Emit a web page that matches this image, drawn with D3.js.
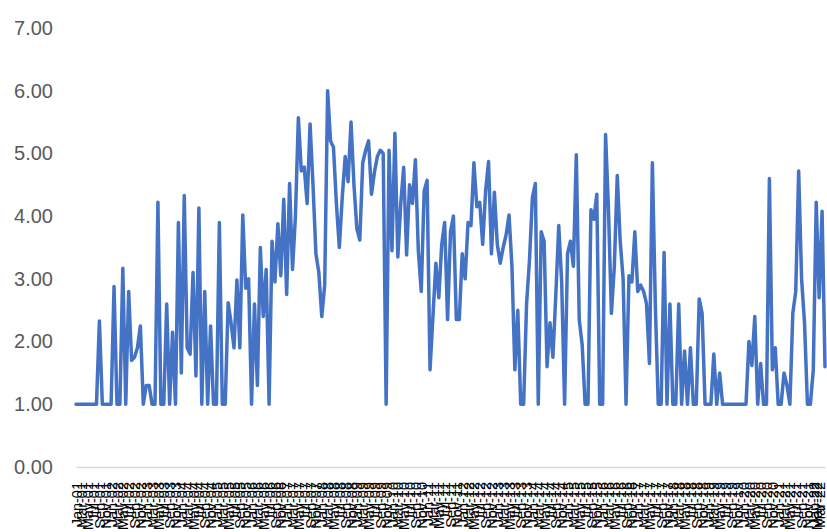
<!DOCTYPE html>
<html>
<head>
<meta charset="utf-8">
<script src="https://cdn.jsdelivr.net/npm/d3@7"></script>
<style>
  body { margin: 0; background: #fff; }
  text { font-family: "Liberation Sans", Arial, sans-serif; }
</style>
</head>
<body>
<div id="chart"></div>
<script>
// monthly series
const monthNames = ["Jan", "Feb", "Mar", "Apr", "May", "Jun", "Jul", "Aug", "Sep", "Oct", "Nov", "Dec"];
const firstYear = 2001;

const values = [
  1, 1, 1, 1, 1, 1, 1, 1,
  2.33, 1, 1, 1, 1, 2.88, 1, 1, 3.17, 1,
  2.80, 1.70, 1.75, 1.90, 2.25, 1, 1.30, 1.30, 1, 1,
  4.22, 1, 1, 2.60, 1, 2.15, 1, 3.90, 1.50, 4.33,
  1.90, 1.80, 3.10, 1.45, 4.13, 1, 2.80, 1, 2.25, 1,
  1, 3.90, 1, 1, 2.62, 2.30, 1.90, 2.98, 1.90, 4.02,
  2.85, 3.00, 1, 2.60, 1.30, 3.50, 2.40, 3.15, 1, 3.60,
  2.95, 3.88, 3.05, 4.27, 2.75, 4.52, 3.15, 4.00, 5.57, 4.72,
  4.78, 4.20, 5.47, 4.50, 3.40, 3.10, 2.40, 2.90, 6.00, 5.20,
  5.10, 4.20, 3.50, 4.30, 4.95, 4.55, 5.50, 4.50, 3.80, 3.62,
  4.85, 5.05, 5.20, 4.35, 4.70, 4.95, 5.05, 5.00, 1, 5.05,
  3.45, 5.32, 3.35, 4.20, 4.78, 3.38, 4.50, 4.20, 4.90, 3.45,
  2.80, 4.40, 4.57, 1.55, 2.40, 3.25, 2.70, 3.55, 3.90, 2.35,
  3.75, 4.00, 2.35, 2.35, 3.40, 3.00, 3.90, 3.85, 4.85, 4.15,
  4.22, 3.55, 4.40, 4.87, 3.40, 4.38, 3.55, 3.25, 3.50, 3.70,
  4.02, 3.20, 1.55, 2.50, 1, 1, 2.60, 3.30, 4.30, 4.52,
  1, 3.75, 3.60, 1.60, 2.30, 1.75, 2.75, 3.85, 2.95, 1,
  3.40, 3.60, 3.20, 4.98, 2.35, 1.95, 1, 1, 4.10, 3.95,
  4.35, 1, 1, 5.30, 4.10, 2.45, 3.20, 4.65, 3.60, 3.00,
  1, 3.05, 2.95, 3.75, 2.80, 2.90, 2.80, 2.60, 1.65, 4.85,
  2.60, 1, 1, 3.42, 1, 2.60, 1, 1, 2.60, 1,
  1.85, 1, 1.90, 1, 1, 2.68, 2.45, 1, 1, 1,
  1.80, 1, 1.50, 1, 1, 1, 1, 1, 1, 1,
  1, 1, 2.00, 1.62, 2.40, 1, 1.65, 1, 1, 4.60,
  1.55, 1.90, 1, 1, 1.50, 1.30, 1, 2.45, 2.80, 4.72,
  3.00, 2.30, 1, 1, 1.55, 4.22, 2.70, 4.08, 1.60
];

const yTicks = [0, 1, 2, 3, 4, 5, 6, 7];

// category labels like "Jan-01"
const categories = values.map((v, i) => {
  const yr = (firstYear + Math.floor(i / 12)) % 100;
  return monthNames[i % 12] + "-" + String(yr).padStart(2, "0");
});
const data = categories.map((c, i) => ({ cat: c, value: values[i] }));

const width = 827;
const height = 532;
const plot = { left: 76, right: 825, top: 28, bottom: 467 };

const svg = d3.select("#chart")
  .append("svg")
  .attr("width", width)
  .attr("height", height);

const x = d3.scalePoint()
  .domain(categories)
  .range([plot.left, plot.right]);

const y = d3.scaleLinear()
  .domain([0, 7])
  .range([plot.bottom, plot.top]);

// y axis labels, no line
const yAxis = svg.append("g")
  .attr("transform", `translate(${plot.left},0)`)
  .call(d3.axisLeft(y).tickValues(yTicks).tickSize(0).tickPadding(23).tickFormat(d3.format(".2f")));
yAxis.select(".domain").remove();
yAxis.selectAll("text")
  .style("font-size", "20px")
  .style("font-family", "'Liberation Sans', Arial, sans-serif")
  .style("fill", "#595959");

// category axis, every 2nd label, rotated
const xTickVals = categories.filter((c, i) => i % 2 === 0);
const lastTick = xTickVals[xTickVals.length - 1];
const xAxis = svg.append("g")
  .attr("transform", `translate(0,${plot.bottom})`)
  .call(d3.axisBottom(x)
    .tickValues(xTickVals)
    .tickSize(0));
xAxis.select(".domain")
  .attr("stroke", "#D9D9D9")
  .attr("stroke-width", 1.5);
xAxis.selectAll("text")
  .attr("transform", "rotate(-90)")
  .attr("x", -15)
  .attr("y", 0)
  // keep the last label inside the right edge
  .attr("dy", (d) => (d === lastTick ? "-0.25em" : "0.35em"))
  .attr("text-anchor", "end")
  .style("font-size", "14.5px")
  .style("font-family", "'Liberation Sans', Arial, sans-serif")
  .style("fill", "#000");

// the series
const line = d3.line()
  .x((d) => x(d.cat))
  .y((d) => y(d.value));

svg.append("path")
  .datum(data)
  .attr("d", line)
  .attr("fill", "none")
  .attr("stroke", "#4472C4")
  .attr("stroke-width", 3.5)
  .attr("stroke-linejoin", "round")
  .attr("stroke-linecap", "round");
</script>
</body>
</html>
